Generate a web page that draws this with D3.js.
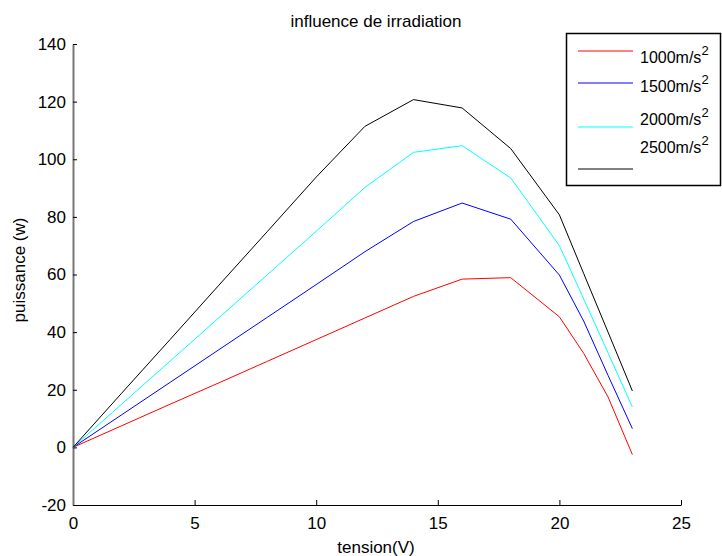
<!DOCTYPE html>
<html><head><meta charset="utf-8">
<script src="https://cdn.jsdelivr.net/npm/d3@7"></script>
<style>body{margin:0;background:#fff}svg{display:block;font-family:"Liberation Sans",Arial,sans-serif}</style>
</head><body><svg id="c" width="722" height="556"></svg>
<script>
const tension = [0, 2, 4, 6, 8, 10, 12, 14, 16, 18, 20, 21, 22, 23];
const p1000 = [0, 7.5, 15, 22.4, 29.9, 37.4, 44.9, 52.4, 58.4, 58.9, 45.3, 32.6, 17.5, -2.5];
const p1500 = [0, 11.3, 22.6, 33.9, 45.2, 56.5, 67.9, 78.4, 84.8, 79.2, 59.8, 43.8, 25, 6.5];
const p2000 = [0, 15, 30, 45, 60, 75, 90.2, 102.4, 104.7, 93.5, 70.0, 51.5, 32.8, 14];
const p2500 = [0, 18.8, 37.5, 56.3, 75, 93.8, 111.4, 120.7, 117.8, 103.7, 80.7, 60.3, 40, 19.6];
const seriesNames = ["1000m/s", "1500m/s", "2000m/s", "2500m/s"];
const seriesColors = ["#ff0000", "#0000ff", "#00ffff", "#000000"];
const xTicks = [0, 5, 10, 15, 20, 25];
const yTicks = [-20, 0, 20, 40, 60, 80, 100, 120, 140];

const svg = d3.select("#c");
const x = d3.scaleLinear().domain([0, 25]).range([73, 681]);
const y = d3.scaleLinear().domain([-20, 140]).range([505, 44]);
const fmt = d => String(d);

// title
svg.append("text").attr("x", 376).attr("y", 27).attr("text-anchor", "middle")
  .attr("font-size", 17).text("influence de irradiation");

// x axis
const xa = svg.append("g").attr("transform", `translate(0,${y(-20)})`)
  .call(d3.axisBottom(x).tickValues(xTicks).tickSizeInner(-5).tickSizeOuter(0).tickPadding(12).tickFormat(fmt));
xa.select(".domain").attr("stroke", "#000");
xa.selectAll("text").attr("font-size", 17).attr("fill", "#000").attr("font-family", "Liberation Sans, Arial, sans-serif");

// y axis
const ya = svg.append("g").attr("transform", `translate(${x(0)},0)`)
  .call(d3.axisLeft(y).tickValues(yTicks).tickSizeInner(-4).tickSizeOuter(0).tickPadding(7).tickFormat(fmt));
ya.select(".domain").attr("stroke", "#777").attr("stroke-width", 2);
ya.selectAll("text").attr("font-size", 17).attr("fill", "#000").attr("font-family", "Liberation Sans, Arial, sans-serif");

// axis labels
svg.append("text").attr("x", 376).attr("y", 553).attr("text-anchor", "middle")
  .attr("font-size", 17).text("tension(V)");
svg.append("text").attr("transform", "translate(25,270) rotate(-90)").attr("text-anchor", "middle")
  .attr("font-size", 17).text("puissance (w)");

// lines
const allSeries = [p1000, p1500, p2000, p2500];
const line = d3.line().x((d, i) => x(tension[i])).y(d => y(d));
allSeries.forEach((s, k) => {
  svg.append("path").datum(s).attr("d", line).attr("fill", "none")
    .attr("stroke", seriesColors[k]).attr("stroke-width", 1);
});

// legend
svg.append("rect").attr("x", 566.5).attr("y", 33.5).attr("width", 154).attr("height", 152)
  .attr("fill", "#fff").attr("stroke", "#000").attr("stroke-width", 1.5);
const legLineY = [51, 83, 127, 169];
const legTextY = [63, 92, 125, 153];
seriesNames.forEach((n, k) => {
  svg.append("line").attr("x1", 578).attr("x2", 633).attr("y1", legLineY[k]).attr("y2", legLineY[k])
    .attr("stroke", seriesColors[k]).attr("stroke-width", 1);
  const t = svg.append("text").attr("x", 640).attr("y", legTextY[k]).attr("font-size", 16).text(n);
  t.append("tspan").attr("dy", -8).attr("font-size", 13).text("2");
});
</script></body></html>
